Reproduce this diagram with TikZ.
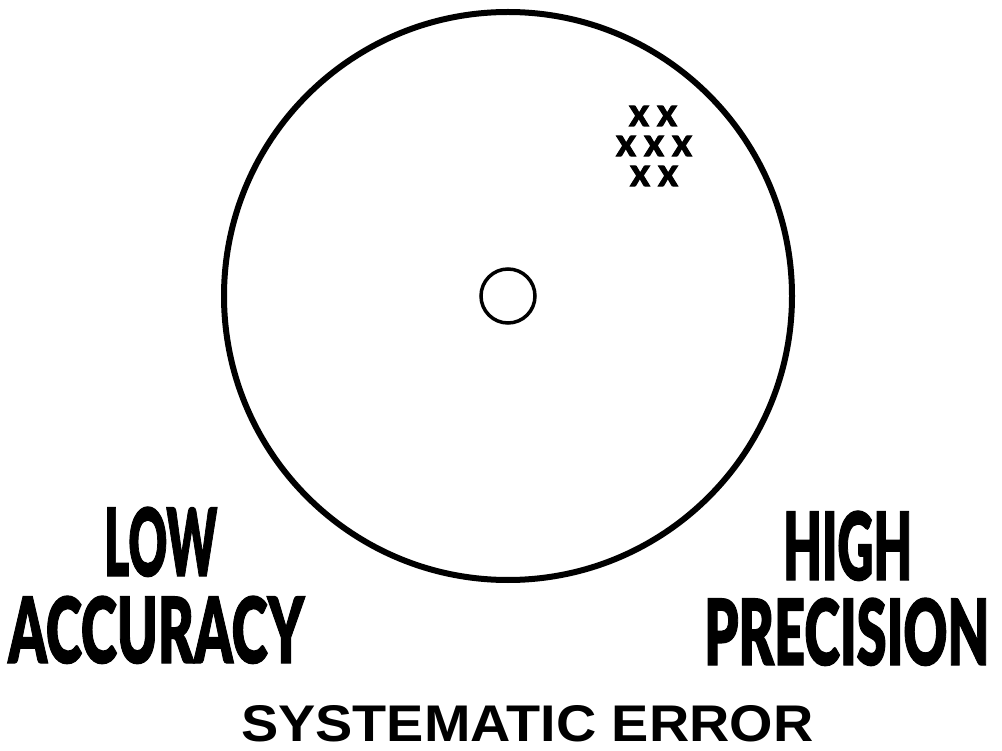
\documentclass[tikz,border=0pt]{standalone}
\usepackage{fontspec}
\setmainfont{Liberation Sans}
\newfontfamily\heavy{Lato Black}[FakeBold=1.5]
\newfontfamily\heavyx{Lato Black}[FakeBold=4]
\begin{document}
\begin{tikzpicture}[x=1pt,y=-1pt,
  ring/.style={circle,draw=black,fill=none,inner sep=0pt},
  xmark/.style={inner sep=0pt},
  label/.style={inner sep=0pt,anchor=base west}]
\useasboundingbox (0,0) rectangle (1002,751);
\node[ring,line width=6pt,minimum size=568pt] (target) at (508,296) {};
\node[ring,line width=3.5pt,minimum size=54pt] (bull) at (508,296) {};
\node[xmark] (x1) at (639,116) {\resizebox{19pt}{20pt}{\heavyx X}};
\node[xmark] (x2) at (667,116) {\resizebox{19pt}{20pt}{\heavyx X}};
\node[xmark] (x3) at (626,146) {\resizebox{19pt}{20pt}{\heavyx X}};
\node[xmark] (x4) at (654,146) {\resizebox{19pt}{20pt}{\heavyx X}};
\node[xmark] (x5) at (682,146) {\resizebox{19pt}{20pt}{\heavyx X}};
\node[xmark] (x6) at (640,176) {\resizebox{19pt}{20pt}{\heavyx X}};
\node[xmark] (x7) at (668,176) {\resizebox{19pt}{20pt}{\heavyx X}};
\node[label] (low) at (104,576) {\resizebox{113pt}{69pt}{\heavy LOW}};
\node[label] (acc) at (8,663) {\resizebox{296pt}{67pt}{\heavy ACCURACY}};
\node[label] (high) at (783,580) {\resizebox{129pt}{69pt}{\heavy HIGH}};
\node[label] (prec) at (704,665) {\resizebox{285pt}{67pt}{\heavy PRECISION}};
\node[label] (sys) at (241,741) {\resizebox{572pt}{36pt}{\bfseries SYSTEMATIC ERROR}};
\end{tikzpicture}
\end{document}
